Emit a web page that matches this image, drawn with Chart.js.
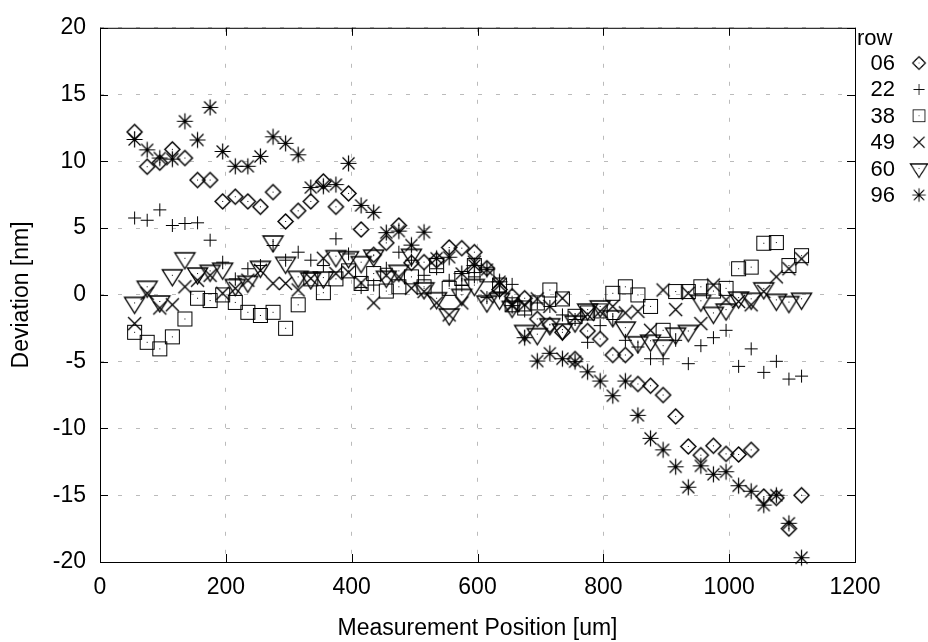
<!DOCTYPE html>
<html>
<head>
<meta charset="utf-8">
<script src="https://cdn.jsdelivr.net/npm/chart.js@4.4.0/dist/chart.umd.min.js"></script>
<style>
  html, body { margin: 0; padding: 0; background: #fff; }
</style>
</head>
<body>
<canvas id="chart" width="928" height="642"></canvas>
<script>
// measurement positions (um)
const positions = [55, 75, 95, 115, 135, 155, 175, 195, 215, 235,
  255, 275, 295, 315, 335, 355, 375, 395, 415, 435,
  455, 475, 495, 515, 535, 555, 575, 595, 615, 635,
  655, 675, 695, 715, 735, 755, 775, 795, 815, 835,
  855, 875, 895, 915, 935, 955, 975, 995, 1015, 1035,
  1055, 1075, 1095, 1115];

const rows = ['06', '22', '38', '49', '60', '96'];

const row06 = [12.2, 9.6, 9.9, 10.9, 10.25, 8.6, 8.6, 7.0, 7.35, 7.0,
  6.6, 7.7, 5.5, 6.3, 7.0, 8.5, 6.6, 7.6, 4.9, 3.0,
  3.9, 5.2, 2.4, 2.45, 2.6, 3.55, 3.5, 3.2, 2.0, 0.4,
  -0.1, -0.25, -1.8, -2.25, -2.8, -4.8, -2.7, -3.3, -4.5, -4.5,
  -6.67, -6.8, -7.5, -9.1, -11.35, -12.0, -11.3, -11.9, -11.95, -11.6,
  -15.1, -15.2, -17.5, -15.0];
const row22 = [5.76, 5.59, 6.37, 5.2, 5.35, 5.4, 4.1, 2.45, 1.2, 1.96,
  2.2, 3.7, 2.6, 3.2, 2.6, 2.2, 4.2, 3.07, 0.55, 0.74,
  2.0, 3.2, 2.6, 1.47, 1.96, 1.1, 0.74, 1.35, -0.2, 0.2,
  0.79, -1.2, -0.6, -0.86, -1.5, -1.84, -3.55, -2.3, -1.84, -3.4,
  -3.9, -4.78, -4.78, -3.4, -5.15, -3.8, -3.2, -2.65, -5.35, -4.04,
  -5.8, -4.97, -6.3, -6.08];
const row38 = [-2.8, -3.55, -4.04, -3.14, -1.8, -0.25, -0.42, 0.0, -0.56, -1.3,
  -1.54, -1.3, -2.5, -0.74, 1.2, 0.17, 1.2, 1.8, 0.86, 1.6,
  0.29, 0.61, 1.35, 0.61, 2.2, 0.49, 1.23, 2.2, 1.5, 0.74,
  -0.74, -0.98, -0.6, 0.37, -0.3, -1.6, -1.35, -1.2, 0.12, 0.61,
  0.0, -0.86, -2.65, 0.25, 0.25, 0.61, 0.29, 0.49, 1.96, 2.08,
  3.87, 3.92, 2.2, 2.94];
const row49 = [-2.15, 0.12, -0.98, -0.74, 0.61, 1.1, 1.47, 0.12, 0.49, 1.1,
  1.84, 0.86, 0.86, 0.37, 1.23, 2.74, 1.6, 1.7, 0.9, -0.6,
  1.47, 1.35, 0.5, 0.25, -0.6, -1.5, -0.6, 2.45, -0.12, 0.74,
  -0.74, -0.74, -0.3, -0.86, -0.25, -1.7, -1.47, -1.23, -0.86, -1.35,
  -1.23, -2.65, 0.37, -1.1, 0.12, -2.15, 0.74, -0.37, -0.49, -0.74,
  0.25, 1.35, 1.96, 2.7];
const row60 = [-0.6, 0.61, -0.49, 1.47, 2.74, 1.6, 1.8, 1.96, 0.74, 0.98,
  2.1, 4.0, 2.4, 1.35, 1.23, 1.3, 2.9, 2.82, 2.45, 2.94,
  1.35, 1.8, 3.0, 0.49, -0.25, -1.47, 0.0, 0.74, -0.5, -0.3,
  -0.9, -2.7, -2.94, -2.2, -2.6, -2.0, -1.1, -0.86, -1.6, -2.45,
  -3.55, -3.43, -3.8, -2.9, -2.7, -0.44, -1.35, -1.1, -0.2, -0.29,
  0.49, -0.37, -0.54, -0.29];
const row96 = [11.64, 10.86, 10.25, 10.17, 13.0, 11.6, 14.04, 10.74, 9.63, 9.63,
  10.37, 11.84, 11.35, 10.49, 8.04, 8.14, 8.26, 9.85, 6.7, 6.18,
  4.66, 4.78, 3.73, 4.7, 2.74, 2.82, 1.6, 2.2, 1.89, 0.98,
  -0.8, -3.2, -4.95, -4.37, -4.78, -5.0, -5.76, -6.45, -7.55, -6.45,
  -9.02, -10.74, -11.6, -12.87, -14.4, -12.8, -13.43, -13.24, -14.29, -14.7,
  -15.74, -15.0, -17.1, -19.68];

const xTicks = [0, 200, 400, 600, 800, 1000, 1200];
const yTicks = [-20, -15, -10, -5, 0, 5, 10, 15, 20];

const FONT = '"Liberation Sans", Arial, sans-serif';

// gnuplot style point markers drawn onto small canvases
function marker(draw) {
  const c = document.createElement('canvas');
  c.width = 25; c.height = 25;
  const g = c.getContext('2d');
  g.translate(12.5, 12.5);
  g.strokeStyle = '#000';
  g.fillStyle = '#000';
  g.lineWidth = 1.3;
  draw(g);
  return c;
}
function dot(g) { g.fillRect(-0.5, -0.5, 1, 1); }

const markers = [
  marker(g => { // diamond
    g.lineWidth = 1.5;
    g.beginPath(); g.moveTo(0, -7.5); g.lineTo(7.5, 0); g.lineTo(0, 7.5); g.lineTo(-7.5, 0); g.closePath(); g.stroke(); dot(g);
  }),
  marker(g => { // plus
    g.lineWidth = 1;
    g.beginPath(); g.moveTo(-6.5, 0); g.lineTo(6.5, 0); g.moveTo(0, -6.5); g.lineTo(0, 6.5); g.stroke();
  }),
  marker(g => { // box
    g.lineWidth = 1;
    g.strokeRect(-7, -7, 14, 14); dot(g);
  }),
  marker(g => { // cross
    g.lineWidth = 1.4;
    g.beginPath(); g.moveTo(-6.5, -6.5); g.lineTo(6.5, 6.5); g.moveTo(-6.5, 6.5); g.lineTo(6.5, -6.5); g.stroke();
  }),
  marker(g => { // triangle down
    g.lineWidth = 1.4;
    g.beginPath(); g.moveTo(-10, -5.5); g.lineTo(10, -5.5); g.lineTo(0, 10.5); g.closePath(); g.stroke(); dot(g);
  }),
  marker(g => { // asterisk
    g.lineWidth = 1.2;
    g.beginPath();
    g.moveTo(-8, 0); g.lineTo(8, 0); g.moveTo(0, -8); g.lineTo(0, 8);
    g.moveTo(-6, -6); g.lineTo(6, 6); g.moveTo(-6, 6); g.lineTo(6, -6);
    g.stroke();
    g.beginPath(); g.arc(0, 0, 1.8, 0, Math.PI * 2); g.fill();
  })
];

const values = [row06, row22, row38, row49, row60, row96];

const datasets = rows.map((r, i) => ({
  label: r,
  data: positions.map((x, k) => ({ x: x, y: values[i][k] })),
  pointStyle: markers[i],
  pointRadius: 8,
  showLine: false,
  clip: false,
  order: rows.length - i
}));

const framePlugin = {
  id: 'frame',
  afterDraw(chart) {
    const { ctx, chartArea: a, scales: { x, y } } = chart;
    ctx.save();
    ctx.strokeStyle = '#000';
    ctx.lineWidth = 1;
    ctx.beginPath();
    xTicks.forEach(v => {
      const px = Math.round(x.getPixelForValue(v)) + 0.5;
      ctx.moveTo(px, a.bottom); ctx.lineTo(px, a.bottom - 8);
      ctx.moveTo(px, a.top); ctx.lineTo(px, a.top + 8);
    });
    yTicks.forEach(v => {
      const py = Math.round(y.getPixelForValue(v)) + 0.5;
      ctx.moveTo(a.left, py); ctx.lineTo(a.left + 8, py);
      ctx.moveTo(a.right, py); ctx.lineTo(a.right - 8, py);
    });
    ctx.stroke();
    ctx.strokeRect(a.left + 0.5, a.top + 0.5, a.right - a.left, a.bottom - a.top);

    // legend: title, then label text with a smaller marker to its right
    ctx.fillStyle = '#000';
    ctx.font = '22px ' + FONT;
    ctx.textAlign = 'left';
    ctx.textBaseline = 'alphabetic';
    ctx.fillText('row', 857, 45);
    ctx.textAlign = 'right';
    ctx.textBaseline = 'middle';
    const s = 0.85;
    rows.forEach((r, i) => {
      const ly = 63 + i * 26.4;
      ctx.fillText(r, 895, ly + 1);
      ctx.drawImage(markers[i], 919 - 12.5 * s, ly - 12.5 * s, 25 * s, 25 * s);
    });
    ctx.restore();
  }
};

new Chart(document.getElementById('chart').getContext('2d'), {
  type: 'scatter',
  data: { datasets: datasets },
  options: {
    responsive: false,
    animation: false,
    devicePixelRatio: 1,
    layout: { padding: { top: 18, right: 73, left: 0, bottom: 0 } },
    plugins: {
      legend: { display: false },
      tooltip: { enabled: false }
    },
    scales: {
      x: {
        type: 'linear',
        min: 0,
        max: 1200,
        afterFit: s => { s.height = 80; },
        ticks: { stepSize: 200, padding: 12, color: '#000', font: { family: FONT, size: 23 }, callback: v => String(v) },
        grid: { color: '#bbbbbb', drawTicks: false, lineWidth: 1 },
        border: { display: false, dash: [4, 14] },
        title: { display: true, text: 'Measurement Position [um]', color: '#000', padding: { top: 0, bottom: 0 }, font: { family: FONT, size: 23 } }
      },
      y: {
        min: -20,
        max: 20,
        afterFit: s => { s.width = 100; },
        ticks: { stepSize: 5, padding: 14, color: '#000', font: { family: FONT, size: 23 }, callback: v => String(v) },
        grid: { color: '#bbbbbb', drawTicks: false, lineWidth: 1 },
        border: { display: false, dash: [4, 14] },
        title: { display: true, text: 'Deviation [nm]', color: '#000', padding: { top: 8, bottom: 0 }, font: { family: FONT, size: 23 } }
      }
    }
  },
  plugins: [framePlugin]
});
</script>
</body>
</html>
